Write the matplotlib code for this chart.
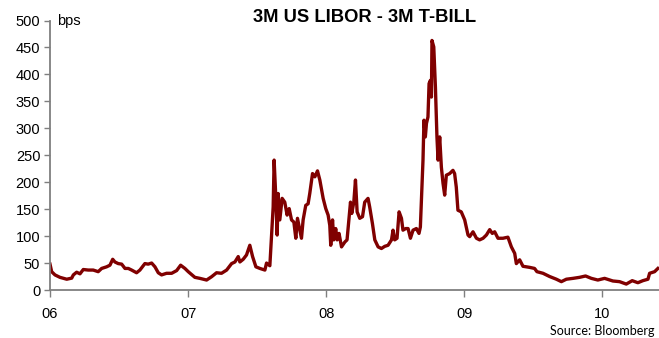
import matplotlib
matplotlib.use("Agg")
import matplotlib.pyplot as plt

# 3M US LIBOR minus 3M T-bill spread, basis points (fractional year, value)
years = [
    2006.000, 2006.012, 2006.036, 2006.072, 2006.121, 2006.157, 2006.169, 2006.193,
    2006.217, 2006.241, 2006.277, 2006.313, 2006.349, 2006.374, 2006.410, 2006.434,
    2006.454, 2006.470, 2006.494, 2006.519, 2006.543, 2006.567, 2006.591, 2006.627,
    2006.651, 2006.687, 2006.711, 2006.736, 2006.760, 2006.784, 2006.808, 2006.844,
    2006.881, 2006.917, 2006.946, 2006.977, 2007.001, 2007.049, 2007.085, 2007.134,
    2007.170, 2007.206, 2007.242, 2007.279, 2007.315, 2007.339, 2007.363, 2007.375,
    2007.399, 2007.423, 2007.447, 2007.467, 2007.491, 2007.520, 2007.556, 2007.568,
    2007.592, 2007.604, 2007.616, 2007.623, 2007.635, 2007.645, 2007.652, 2007.664,
    2007.681, 2007.700, 2007.717, 2007.732, 2007.749, 2007.766, 2007.780, 2007.792,
    2007.809, 2007.821, 2007.833, 2007.852, 2007.869, 2007.881, 2007.901, 2007.918,
    2007.937, 2007.954, 2007.978, 2007.997, 2008.014, 2008.026, 2008.033, 2008.046,
    2008.055, 2008.069, 2008.079, 2008.093, 2008.111, 2008.135, 2008.151, 2008.166,
    2008.176, 2008.185, 2008.200, 2008.212, 2008.224, 2008.243, 2008.263, 2008.279,
    2008.303, 2008.315, 2008.335, 2008.352, 2008.376, 2008.400, 2008.424, 2008.448,
    2008.473, 2008.484, 2008.496, 2008.513, 2008.528, 2008.545, 2008.556, 2008.576,
    2008.593, 2008.610, 2008.629, 2008.653, 2008.672, 2008.682, 2008.697, 2008.701,
    2008.708, 2008.718, 2008.726, 2008.737, 2008.745, 2008.755, 2008.762, 2008.766,
    2008.779, 2008.791, 2008.802, 2008.810, 2008.822, 2008.834, 2008.846, 2008.858,
    2008.870, 2008.894, 2008.918, 2008.930, 2008.942, 2008.954, 2008.978, 2009.003,
    2009.027, 2009.039, 2009.063, 2009.088, 2009.111, 2009.136, 2009.160, 2009.184,
    2009.203, 2009.220, 2009.244, 2009.280, 2009.316, 2009.341, 2009.365, 2009.377,
    2009.401, 2009.425, 2009.473, 2009.509, 2009.526, 2009.570, 2009.618, 2009.667,
    2009.703, 2009.739, 2009.787, 2009.835, 2009.878, 2009.920, 2009.967, 2010.016,
    2010.076, 2010.124, 2010.173, 2010.216, 2010.257, 2010.293, 2010.330, 2010.342,
    2010.378, 2010.402,
]
spread_bps = [
    48, 34, 28, 23.5, 20, 22, 28, 33,
    30, 38, 37, 37, 34, 40, 43, 46,
    57, 52, 49, 48, 40, 40, 37, 32,
    37, 49, 48, 50, 43, 32, 28, 31,
    31, 36, 46, 40, 34, 23.5, 21.6, 18.5,
    24.6, 32, 31, 37, 49, 52, 62, 52,
    57, 65, 83, 62, 43, 40, 37, 50,
    45, 99, 154, 241, 173, 102, 179, 130,
    170, 163, 139, 151, 130, 126, 96, 133,
    111, 96, 130, 157, 160, 179, 216, 210,
    221, 204, 170, 151, 139, 120, 83, 130,
    93, 114, 93, 105, 80, 89, 93, 136,
    163, 142, 163, 204, 145, 133, 136, 163,
    170, 154, 123, 93, 80, 77, 81, 83,
    93, 111, 93, 96, 145, 133, 111, 114,
    114, 96, 111, 114, 105, 117, 216, 241,
    315, 284, 309, 321, 383, 389, 358, 463,
    451, 376, 284, 241, 284, 228, 198, 176,
    213, 216, 222, 216, 191, 148, 145, 130,
    102, 99, 108, 96, 93, 96, 102, 112,
    105, 108, 96, 96, 98, 80, 68, 49,
    56, 44, 42, 40, 34, 31, 25, 20,
    15.5, 20, 21.6, 23.5, 26, 21.6, 18.5, 21.6,
    16.7, 15.5, 11, 17.3, 13.5, 17.3, 20, 31,
    34, 40,
]

year_ticks = [2006, 2007, 2008, 2009, 2010]
year_labels = ["06", "07", "08", "09", "10"]
bps_ticks = [0, 50, 100, 150, 200, 250, 300, 350, 400, 450, 500]

plt.rcParams["font.family"] = ["Liberation Sans", "DejaVu Sans"]

fig = plt.figure(figsize=(6.59, 3.38), dpi=100)
ax = fig.add_axes([50 / 659, 48 / 338, 609 / 659, 269.5 / 338])

ax.plot(years, spread_bps, color="#800000", linewidth=2.4, solid_joinstyle="round")

ax.set_xlim(2006, 2010.41)
ax.set_ylim(0, 500)
ax.set_xticks(year_ticks)
ax.set_xticklabels(year_labels)
ax.set_yticks(bps_ticks)

for side in ("top", "right"):
    ax.spines[side].set_visible(False)
for side in ("left", "bottom"):
    ax.spines[side].set_color("#7f7f7f")
    ax.spines[side].set_linewidth(1.3)

ax.tick_params(axis="both", direction="out", colors="#7f7f7f", width=1.0,
               labelcolor="black", labelsize=10.5)
ax.tick_params(axis="y", length=4, pad=3)
ax.tick_params(axis="x", length=5, pad=7.5)

ax.text(0.012, 1.0, "bps", transform=ax.transAxes, fontsize=10.5,
        ha="left", va="center")
fig.text(365 / 659, 1 - 18 / 338, "3M US LIBOR - 3M T-BILL", fontsize=13.2,
         fontweight="bold", ha="center", va="center")
fig.text(655 / 659, 1 - 331 / 338, "Source: Bloomberg", fontsize=9,
         family=["Lato", "DejaVu Sans"], ha="right", va="center")

fig.savefig("out.png", dpi=100)
